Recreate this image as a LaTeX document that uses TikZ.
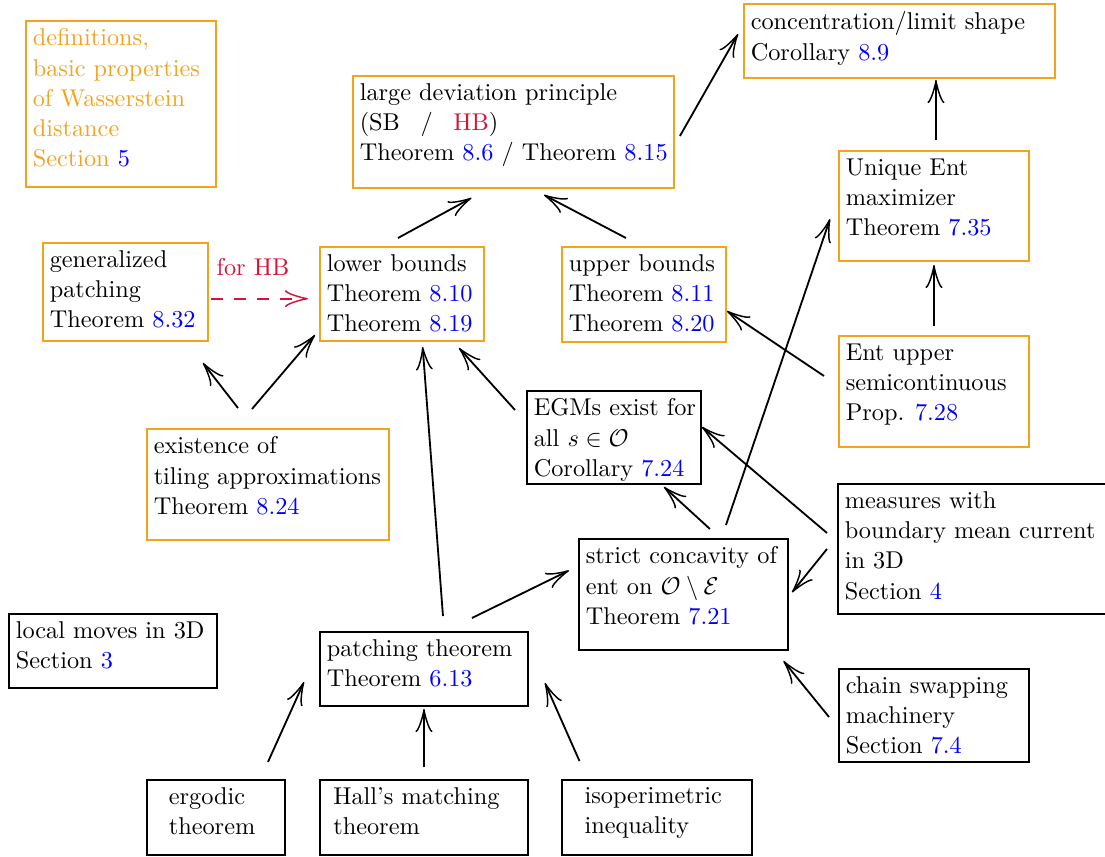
\documentclass[tikz,border=0pt]{standalone}
\usetikzlibrary{arrows.meta,calc}
\definecolor{boxorange}{RGB}{243,163,30}
\definecolor{refblue}{RGB}{0,0,255}
\definecolor{hbred}{RGB}{215,20,55}
\newlength\pxu \setlength\pxu{0.4115pt}
\newcommand\rf[1]{\textcolor{refblue}{#1}}
\newcommand\bxt[4][2.8pt]{\parbox[c][\dimexpr#3\pxu-6.4pt\relax][t]{#2\pxu}{\raggedright\leftskip=#1\relax\baselineskip=12.4pt\relax #4}}
\tikzset{
  bx/.style={anchor=north west, inner xsep=0pt, inner ysep=3.2pt, line width=0.8pt},
  obox/.style={bx, draw=boxorange},
  kbox/.style={bx, draw=black},
  arr/.style={line width=0.75pt, -{Classical TikZ Rightarrow[length=9.5pt,width=7pt]}},
}
\begin{document}
\begin{tikzpicture}[x=0.4115pt, y=-0.4115pt]
\useasboundingbox (0,0) rectangle (1105,856);
% boxes
\node[obox] (defs) at (25,20) {\bxt{190}{166}{\color{boxorange}definitions,\\basic properties\\of Wasserstein\\distance\\Section \rf{5}}};
\node[obox] (ldp) at (352,75) {\bxt{321}{112}{large deviation principle\\(SB\hspace{8.5pt}/\hspace{8.5pt}\textcolor{hbred}{HB})\\Theorem \rf{8.6} / Theorem \rf{8.15}}};
\node[obox] (conc) at (743,3) {\bxt{311}{74}{concentration/limit shape\\Corollary \rf{8.9}}};
\node[obox] (uniq) at (838,150) {\bxt{190}{110}{Unique Ent\\maximizer\\Theorem \rf{7.35}}};
\node[obox] (genp) at (42,242) {\bxt{165}{98}{generalized\\patching\\Theorem \rf{8.32}}};
\node[obox] (lower) at (319,246) {\bxt{164}{94}{lower bounds\\Theorem \rf{8.10}\\Theorem \rf{8.19}}};
\node[obox] (upper) at (561,246) {\bxt{164}{95}{upper bounds\\Theorem \rf{8.11}\\Theorem \rf{8.20}}};
\node[obox] (entu) at (838,335) {\bxt{190}{111}{Ent upper\\semicontinuous\\Prop. \rf{7.28}}};
\node[obox] (exist) at (146,428) {\bxt{242}{111}{existence of\\tiling approximations\\Theorem \rf{8.24}}};
\node[kbox] (egm) at (526,390) {\bxt{174}{93}{EGMs exist for\\all $s\in\mathcal{O}$\\Corollary \rf{7.24}}};
\node[kbox] (meas) at (837,483) {\bxt{272}{130}{measures with\\boundary mean current\\in 3D\\Section \rf{4}}};
\node[kbox] (strict) at (578,538) {\bxt{209}{111}{strict concavity of\\ent on $\mathcal{O}\setminus\mathcal{E}$\\Theorem \rf{7.21}}};
\node[kbox] (local) at (8,613) {\bxt{208}{74}{local moves in 3D\\Section \rf{3}}};
\node[kbox] (patch) at (319,631) {\bxt{208}{74}{patching theorem\\Theorem \rf{6.13}}};
\node[kbox] (chain) at (838,668) {\bxt{190}{93}{chain swapping\\machinery\\Section \rf{7.4}}};
\node[kbox] (ergo) at (146,779) {\bxt[9pt]{138}{75}{ergodic\\theorem}};
\node[kbox] (hall) at (319,779) {\bxt[5.5pt]{208}{75}{Hall's matching\\theorem}};
\node[kbox] (iso) at (561,779) {\bxt[9.3pt]{190}{75}{isoperimetric\\inequality}};
% connectors
\draw[arr] ($(lower.north)+(-4,-8)$) -- ($(ldp.south)+(-42,9)$);
\draw[arr] ($(upper.north)+(-18,-8)$) -- ($(ldp.south)+(30.5,6)$);
\draw[arr] ($(ldp.east)+(5,4)$) -- ($(conc.west)+(-5,-7)$);
\draw[arr] ($(uniq.north)+(2,-10)$) -- ($(conc.south)+(36.5,1)$);
\draw[arr] ($(entu.north)+(0,-9)$) -- ($(uniq.south)+(0,3)$);
\draw[arr] ($(strict.north)+(42.5,-13)$) -- ($(uniq.west)+(-8,13)$);
\draw[arr] ($(strict.north)+(26.5,-9)$) -- ($(egm.south)+(50,2)$);
\draw[arr] ($(meas.west)+(-10,-16)$) -- ($(egm.east)+(0,-10.5)$);
\draw[arr] ($(meas.west)+(-10,0)$) -- ($(strict.east)+(3,-2)$);
\draw[arr] ($(entu.west)+(-14,-15.5)$) -- ($(upper.east)+(0,16.5)$);
\draw[arr] ($(egm.west)+(-11,-27.5)$) -- ($(lower.south)+(57,6)$);
\draw[arr] ($(patch.north)+(19,-15)$) -- ($(lower.south)+(20.7,5)$);
\draw[arr] ($(patch.north)+(48,-13)$) -- ($(strict.west)+(-9,-24)$);
\draw[arr] ($(ergo.north)+(52,-17)$) -- ($(patch.west)+(-15,13)$);
\draw[arr] ($(hall.north)+(0,-12)$) -- ($(patch.south)+(0,2)$);
\draw[arr] ($(iso.north)+(-77.5,-18)$) -- ($(patch.east)+(16,14)$);
\draw[arr] ($(chain.west)+(-9,1.5)$) -- ($(strict.south)+(100,10)$);
\draw[arr] ($(exist.north)+(-30,-20)$) -- ($(genp.south)+(77.5,21)$);
\draw[arr] ($(exist.north)+(-16,-19)$) -- ($(lower.west)+(-4,41)$);
\draw[arr, hbred, dash pattern=on 5pt off 4.5pt] ($(genp.east)+(2,6.7)$) -- ($(lower.west)+(-11,4.7)$);
\node[text=hbred, anchor=base] (forhb) at ($(genp.east)+(44,-16.7)$) {for HB};
\end{tikzpicture}
\end{document}
